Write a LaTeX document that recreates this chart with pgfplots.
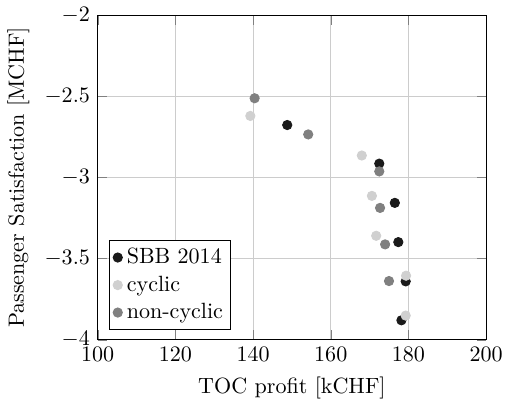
\documentclass[border=0pt]{standalone}
\usepackage{pgfplots}
\pgfplotsset{compat=1.18}
\definecolor{cblack}{HTML}{1A1A1A}
\definecolor{clight}{HTML}{D0D0D0}
\definecolor{cmid}{HTML}{808080}
\begin{document}
\begin{tikzpicture}
\begin{axis}[
  scale only axis,
  width=176pt, height=147pt,
  xmin=100, xmax=200, ymin=-4, ymax=-2,
  xtick={100,120,140,160,180,200},
  ytick={-4,-3.5,-3,-2.5,-2},
  grid=major,
  grid style={color=black!20},
  xlabel={TOC profit [kCHF]},
  ylabel={Passenger Satisfaction [MCHF]},
  legend pos=south west,
  legend cell align=left,
  legend style={inner sep=1.5pt},
  mark size=2.1pt,
]
\addplot[only marks, mark=*, color=cblack] coordinates {
(148.8,-2.676) (172.5,-2.914) (176.5,-3.156) (177.4,-3.398) (179.3,-3.640) (178.2,-3.880)};
\addplot[only marks, mark=*, color=clight] coordinates {
(139.3,-2.620) (168.0,-2.864) (170.6,-3.113) (171.7,-3.359) (179.4,-3.605) (179.3,-3.851)};
\addplot[only marks, mark=*, color=cmid] coordinates {
(140.4,-2.511) (154.2,-2.734) (172.5,-2.962) (172.7,-3.187) (174.0,-3.412) (175.0,-3.638)};
\legend{SBB 2014, cyclic, non-cyclic}
\end{axis}
\end{tikzpicture}
\end{document}
